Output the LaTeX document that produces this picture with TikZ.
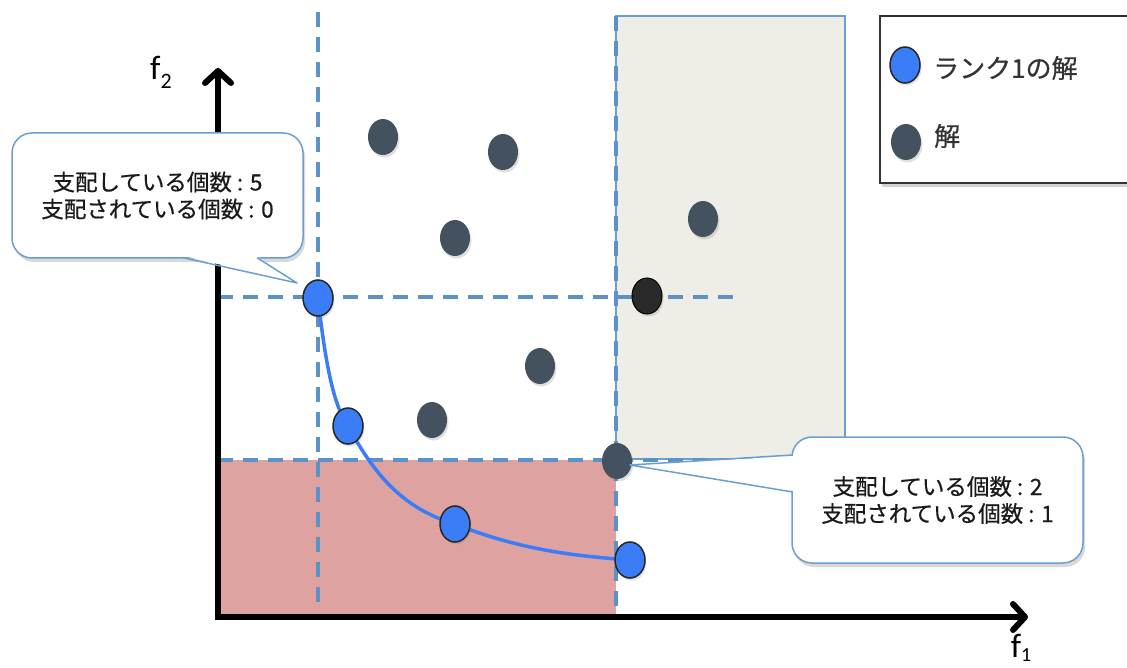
\documentclass[tikz,border=0pt]{standalone}
\usepackage{fontspec}
\newfontfamily\jpfont[FakeBold=0.6]{Noto Sans CJK JP}
\newfontfamily\carfont{Carlito}
\usetikzlibrary{arrows.meta,shadows,shapes.geometric}
\definecolor{dashblue}{HTML}{5B93C8}
\definecolor{boxblue}{HTML}{6A9FD4}
\definecolor{grayfill}{HTML}{EEEDE6}
\definecolor{redfill}{HTML}{DEA3A1}
\definecolor{rankblue}{HTML}{3B7DF6}
\definecolor{soldark}{HTML}{44525F}
\definecolor{soldarker}{HTML}{2A2A2A}
\definecolor{txt}{HTML}{1A1A1A}
\tikzset{
  dashln/.style={dashblue, line width=4pt, dash pattern=on 15pt off 10pt},
  axis/.style={line width=6pt, -{Straight Barb[length=12pt,width=26pt,line cap=round,line join=round]}},
  rank/.style={ellipse, minimum width=30pt, minimum height=36pt, inner sep=0pt, fill=rankblue, draw=black!85, line width=1.5pt,
     drop shadow={opacity=0.25, shadow xshift=1.5pt, shadow yshift=-2.5pt}},
  sol/.style={ellipse, minimum width=30pt, minimum height=36pt, inner sep=0pt, fill=soldark,
     drop shadow={opacity=0.25, shadow xshift=1.5pt, shadow yshift=-2.5pt}},
  callout/.style={draw=boxblue, line width=1.5pt, fill=white, rounded corners=20pt,
     font=\jpfont\fontsize{22.5}{27}\selectfont, text=txt, align=center, inner sep=0pt,
     drop shadow={opacity=0.3, shadow xshift=2pt, shadow yshift=-4pt}},
  legtext/.style={font=\jpfont\fontsize{26}{30}\selectfont, text=black!80, anchor=west, inner sep=0pt},
  flabel/.style={font=\carfont\fontsize{34}{34}\selectfont, inner sep=0pt},
}
\begin{document}
\begin{tikzpicture}[x=1pt,y=-1pt]
\useasboundingbox (0,0) rectangle (1127,668);
% regions
\draw[boxblue, line width=1.5pt, fill=grayfill] (616,16) rectangle (845,459);
\fill[redfill] (220,460) rectangle (616,615);
% dashed lines
\draw[dashln] (318,12) -- (318,605);
\draw[dashln] (616,16) -- (616,615);
\draw[dashln] (218,297) -- (740,297);
\draw[dashln] (218,460) -- (800,460);
% axes
\coordinate (o) at (218,617);
\coordinate (ytip) at (218,68);
\coordinate (xtip) at (1028,617);
\draw[axis] (218,620) -- (ytip);
\draw[axis] (215,617) -- (xtip);
\node[flabel] (f2) at (161,72) {f\raisebox{-9pt}{\fontsize{22}{22}\selectfont 2}};
\node[flabel] (f1) at (1021,648) {f\raisebox{-4pt}{\fontsize{20}{20}\selectfont 1}};
% solutions
\node[sol] (s1) at (383,137) {};
\node[sol] (s2) at (503,152) {};
\node[sol] (s3) at (455,238) {};
\node[sol] (s4) at (703,219) {};
\node[sol] (s5) at (540,366) {};
\node[sol] (s6) at (432,420) {};
\node[sol, fill=soldarker, draw=black, line width=1pt] (s7) at (647,296) {};
% rank 1 curve
\coordinate (c1) at (318,298);
\coordinate (c2) at (348,426);
\coordinate (c3) at (455,524);
\coordinate (c4) at (630,560);
\draw[rankblue, line width=3.5pt] (c1) .. controls (325,360) and (333,405) .. (c2)
   .. controls (372,470) and (400,508) .. (c3)
   .. controls (520,550) and (575,556) .. (c4);
\node[rank] (r1) at (c1) {};
\node[rank] (r2) at (c2) {};
\node[rank] (r3) at (c3) {};
\node[rank] (r4) at (c4) {};
\node[sol] (s8) at (617,461) {};
% left callout
\node[callout, minimum width=291pt, minimum height=125pt] (cl) at (157.5,195.5) {支配している個数 : 5\\支配されている個数 : 0};
\coordinate (tl) at (297,283);
\fill[white] (184,256) -- (tl) -- (256,256) -- cycle;
\draw[boxblue, line width=1.5pt, line join=round] (183,257.7) -- (tl) -- (257,257.7);
% right callout
\node[callout, minimum width=291pt, minimum height=126pt] (cr) at (937.5,500) {支配している個数 : 2\\支配されている個数 : 1};
\coordinate (tr) at (630,465);
\fill[white] (794,456) -- (tr) -- (794,491) -- cycle;
\draw[boxblue, line width=1.5pt, line join=round] (792.7,455) -- (tr) -- (792.7,492);
% legend
\draw[black!80, line width=1.5pt, fill=white, drop shadow={opacity=0.35, shadow xshift=2pt, shadow yshift=-4pt}] (880,16) rectangle (1140,183);
\node[rank] (lr) at (905,65) {};
\node[legtext] (lrt) at (933,68) {ランク1の解};
\node[sol] (ls) at (906,142) {};
\node[legtext] (lst) at (934,136) {解};
\end{tikzpicture}
\end{document}
